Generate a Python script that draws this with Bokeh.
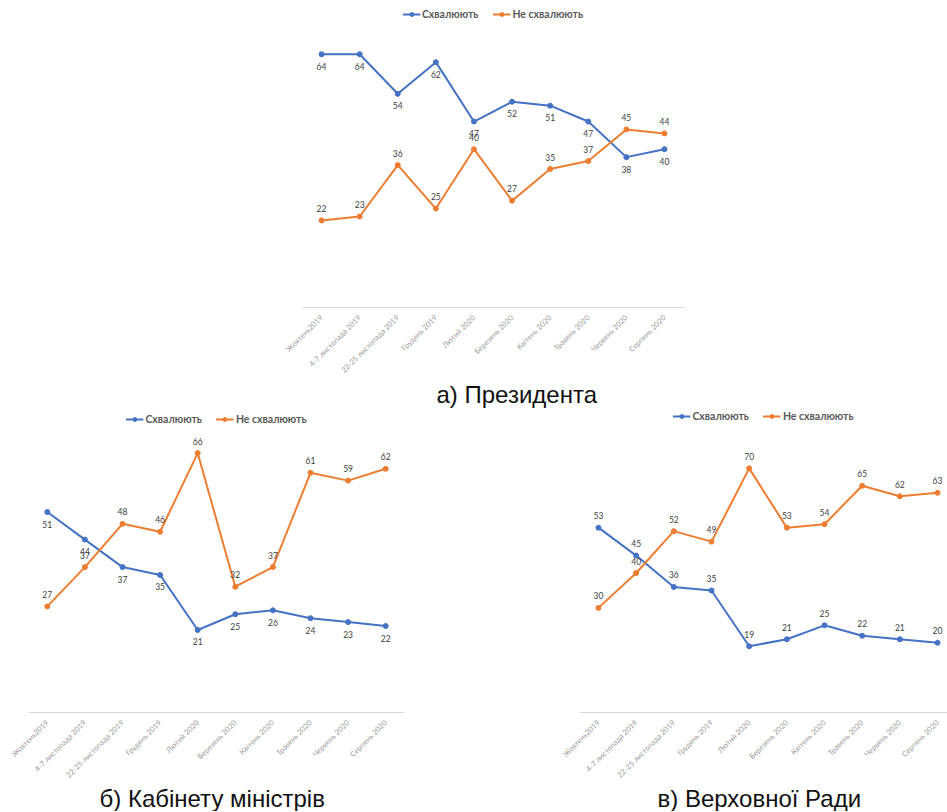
import math
from bokeh.plotting import figure
from bokeh.layouts import column, row
from bokeh.models import Spacer, ColumnDataSource, Range1d, FixedTicker, Title, Legend, LegendItem
from bokeh.core.properties import value
from bokeh.embed import file_html
from bokeh.resources import INLINE

categories = ["Жовтень2019", "4-7 листопада 2019", "22-25 листопада 2019", "Грудень 2019",
              "Лютий 2020", "Березень 2020", "Квітень 2020", "Травень 2020", "Червень 2020", "Серпень 2020"]

series_names = ["Схвалюють", "Не схвалюють"]

president_approve = [64, 64, 54, 62, 47, 52, 51, 47, 38, 40]
president_disapprove = [22, 23, 36, 25, 40, 27, 35, 37, 45, 44]

cabinet_approve = [51, 44, 37, 35, 21, 25, 26, 24, 23, 22]
cabinet_disapprove = [27, 37, 48, 46, 66, 32, 37, 61, 59, 62]

rada_approve = [53, 45, 36, 35, 19, 21, 25, 22, 21, 20]
rada_disapprove = [30, 40, 52, 49, 70, 53, 54, 65, 62, 63]

captions = ["а) Президента", "б) Кабінету міністрів", "в) Верховної Ради"]

BLUE = "#4472C4"
ORANGE = "#ED7D31"
LABEL_FONT = "Lato"


def make_chart(approve, disapprove, caption, width, height, bl, br, bb,
               xr, yr, approve_above, disapprove_above, cap_offset, cap_standoff, leg_margin):
    p = figure(width=width, height=height, output_backend="svg", toolbar_location=None,
               x_range=Range1d(*xr), y_range=Range1d(*yr), y_axis_location=None,
               min_border_left=bl, min_border_right=br, min_border_top=0, min_border_bottom=bb)
    p.outline_line_color = None
    p.xgrid.visible = False
    p.ygrid.visible = False
    p.background_fill_color = "white"
    p.border_fill_color = "white"

    xs = list(range(len(categories)))
    ax = p.xaxis[0]
    ax.ticker = FixedTicker(ticks=xs)
    ax.major_label_overrides = {i: c for i, c in enumerate(categories)}
    ax.major_label_orientation = math.pi / 4
    ax.axis_line_color = "#d9d9d9"
    ax.axis_line_width = 1
    ax.major_tick_line_color = None
    ax.minor_tick_line_color = None
    ax.major_label_text_font_size = "7.5px"
    ax.major_label_text_color = "#999999"
    ax.major_label_text_font = LABEL_FONT
    ax.major_label_standoff = 3

    items = []
    for vals, color, above, name in [(approve, BLUE, approve_above, series_names[0]),
                                     (disapprove, ORANGE, disapprove_above, series_names[1])]:
        src = ColumnDataSource(dict(x=xs, y=vals, t=[str(v) for v in vals]))
        l = p.line("x", "y", source=src, line_color=color, line_width=2)
        s = p.scatter("x", "y", source=src, size=5, fill_color=color, line_color=color)
        p.text("x", "y", text="t", source=src, text_align="center", text_baseline="middle",
               y_offset=-12 if above else 12, text_font=value(LABEL_FONT), text_font_size="8.5px",
               text_color="#404040")
        items.append(LegendItem(label=name, renderers=[l, s]))

    leg = Legend(items=items, orientation="horizontal", location="top_center",
                 label_text_font=LABEL_FONT, label_text_font_size="10.5px", label_text_color="#595959",
                 label_text_font_style="bold",
                 glyph_width=18, glyph_height=10, label_height=10, label_standoff=2,
                 spacing=14, padding=0, margin=leg_margin, border_line_color=None,
                 background_fill_alpha=0)
    p.add_layout(leg)

    p.add_layout(Title(text=caption, align="left", offset=cap_offset, standoff=cap_standoff,
                       text_font="Liberation Sans", text_font_size="24px", text_font_style="normal",
                       text_color="#111111"), "below")
    return p


p1 = make_chart(president_approve, president_disapprove, captions[0],
                width=461, height=402, bl=40, br=40, bb=103,
                xr=(-0.5, 9.5), yr=(0, 75.56), approve_above=False, disapprove_above=True,
                cap_offset=134, cap_standoff=-3, leg_margin=0)

p2 = make_chart(cabinet_approve, cabinet_disapprove, captions[1],
                width=532, height=401, bl=20, br=136, bb=99,
                xr=(-0.5, 9.5), yr=(0, 76.84), approve_above=False, disapprove_above=True,
                cap_offset=71, cap_standoff=-5, leg_margin=3)

p3 = make_chart(rada_approve, rada_disapprove, captions[2],
                width=407, height=401, bl=39, br=0, bb=99,
                xr=(-0.504, 9.265), yr=(0, 86.6), approve_above=True, disapprove_above=True,
                cap_offset=78, cap_standoff=-5, leg_margin=0)

layout = row(Spacer(width=8, height=811),
             column(Spacer(width=939, height=8),
                    row(Spacer(width=254, height=402), p1),
                    row(p2, p3)))

open("out.html", "w").write(file_html(layout, INLINE))
